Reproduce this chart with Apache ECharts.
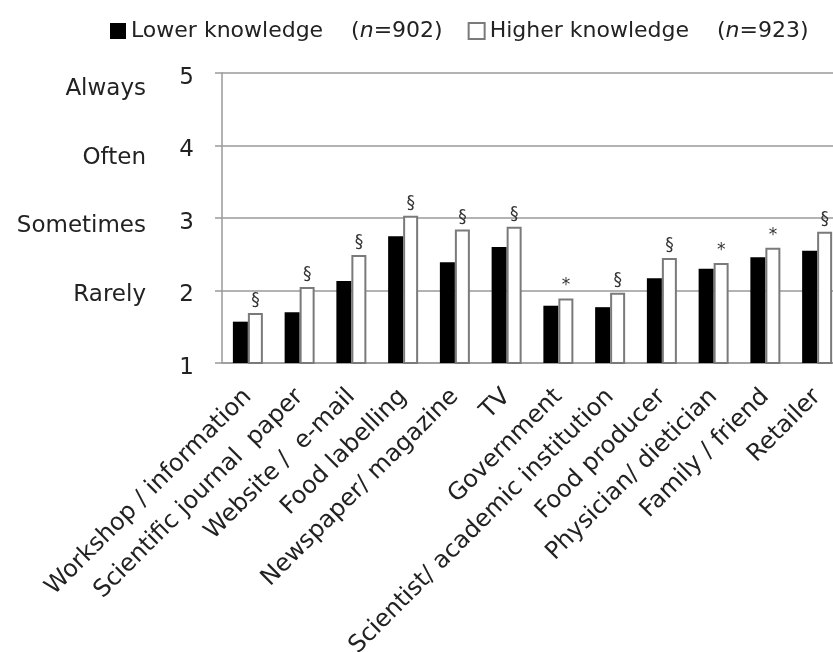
<!DOCTYPE html>
<html>
<head>
<meta charset="utf-8">
<script src="https://cdn.jsdelivr.net/npm/echarts@6/dist/echarts.min.js"></script>
<style>html,body{margin:0;padding:0;background:#fff;}#c{width:833px;height:652px;}</style>
</head>
<body>
<div id="c"></div>
<script>
const categories = ['Workshop / information', 'Scientific journal  paper', 'Website /  e-mail', 'Food labelling', 'Newspaper/ magazine', 'TV', 'Government', 'Scientist/ academic institution', 'Food producer', 'Physician/ dietician', 'Family / friend', 'Retailer'];
const lowerValues = [1.57, 1.70, 2.13, 2.75, 2.39, 2.60, 1.79, 1.77, 2.17, 2.30, 2.46, 2.55];
const higherValues = [1.69, 2.05, 2.49, 3.03, 2.84, 2.88, 1.89, 1.97, 2.45, 2.38, 2.59, 2.81];
const markers = ['§', '§', '§', '§', '§', '§', '*', '§', '§', '*', '*', '§'];
const scaleWords = ['Never', 'Rarely', 'Sometimes', 'Often', 'Always'];
const scaleTicks = [1, 2, 3, 4, 5];
const seriesNames = ['Lower knowledge', 'Higher knowledge'];
const sampleSizes = [902, 923];

const FONT = 'DejaVu Sans';
const TXT = '#222';
const GRAY = '#9a9a9a';

const chart = echarts.init(document.getElementById('c'), null, {renderer: 'canvas'});
chart.setOption({
  animation: false,
  backgroundColor: '#fff',
  textStyle: {fontFamily: FONT},
  legend: {
    left: 105, top: 15,
    itemWidth: 16, itemHeight: 16, itemGap: 25,
    icon: 'rect',
    data: seriesNames,
    formatter: function (name) {
      const n = sampleSizes[seriesNames.indexOf(name)];
      return '{t|' + name + '    (}{i|n}{t|=' + n + ')}';
    },
    textStyle: {
      color: TXT, fontSize: 22, fontFamily: FONT,
      rich: {
        t: {fontSize: 22, fontFamily: FONT, color: TXT},
        i: {fontSize: 22, fontFamily: FONT, color: TXT, fontStyle: 'italic'}
      }
    }
  },
  grid: {left: 222, top: 73, height: 290, width: 621, containLabel: false, outerBoundsMode: 'none'},
  xAxis: {
    type: 'category',
    data: categories,
    axisLine: {lineStyle: {color: GRAY, width: 1.5}},
    axisTick: {length: 7, lineStyle: {color: GRAY, width: 1.5}},
    axisLabel: {
      interval: 0, rotate: 45, color: TXT, fontSize: 24, fontFamily: FONT,
      margin: 30, verticalAlign: 'middle'
    },
    splitLine: {show: false}
  },
  yAxis: [{
    type: 'value', min: 1, max: 5, interval: 1, position: 'left',
    axisLine: {show: true, lineStyle: {color: GRAY, width: 1.5}},
    axisTick: {show: true, length: 7, lineStyle: {color: GRAY, width: 1.5}},
    axisLabel: {
      color: TXT, fontSize: 23, fontFamily: FONT, margin: 28,
      formatter: function (v) { return '{n|' + v + '}'; },
      rich: {n: {fontSize: 23, fontFamily: FONT, color: TXT, padding: [10, 0, 0, 0]}}
    },
    splitLine: {show: true, lineStyle: {color: GRAY, width: 1.5}}
  }, {
    type: 'value', min: 1.0145, max: 5.2327, position: 'left', offset: 68,
    axisLine: {show: false}, axisTick: {show: false}, splitLine: {show: false},
    axisLabel: {
      color: TXT, fontSize: 23, fontFamily: FONT, margin: 8,
      customValues: scaleTicks,
      formatter: function (v) { return scaleWords[Math.round(v) - 1]; }
    }
  }],
  series: [{
    name: seriesNames[0], type: 'bar', yAxisIndex: 0,
    data: lowerValues, barWidth: 15, barGap: '0%',
    itemStyle: {color: '#000', borderColor: '#000', borderWidth: 0}
  }, {
    name: seriesNames[1], type: 'bar', yAxisIndex: 0,
    data: higherValues, barWidth: 15, barGap: '0%',
    itemStyle: {color: '#fff', borderColor: '#7a7a7a', borderWidth: 2},
    label: {
      show: true, position: 'top', distance: 4,
      color: '#333', fontSize: 17, fontFamily: FONT,
      formatter: function (p) { return markers[p.dataIndex]; }
    }
  }]
});
</script>
</body>
</html>
